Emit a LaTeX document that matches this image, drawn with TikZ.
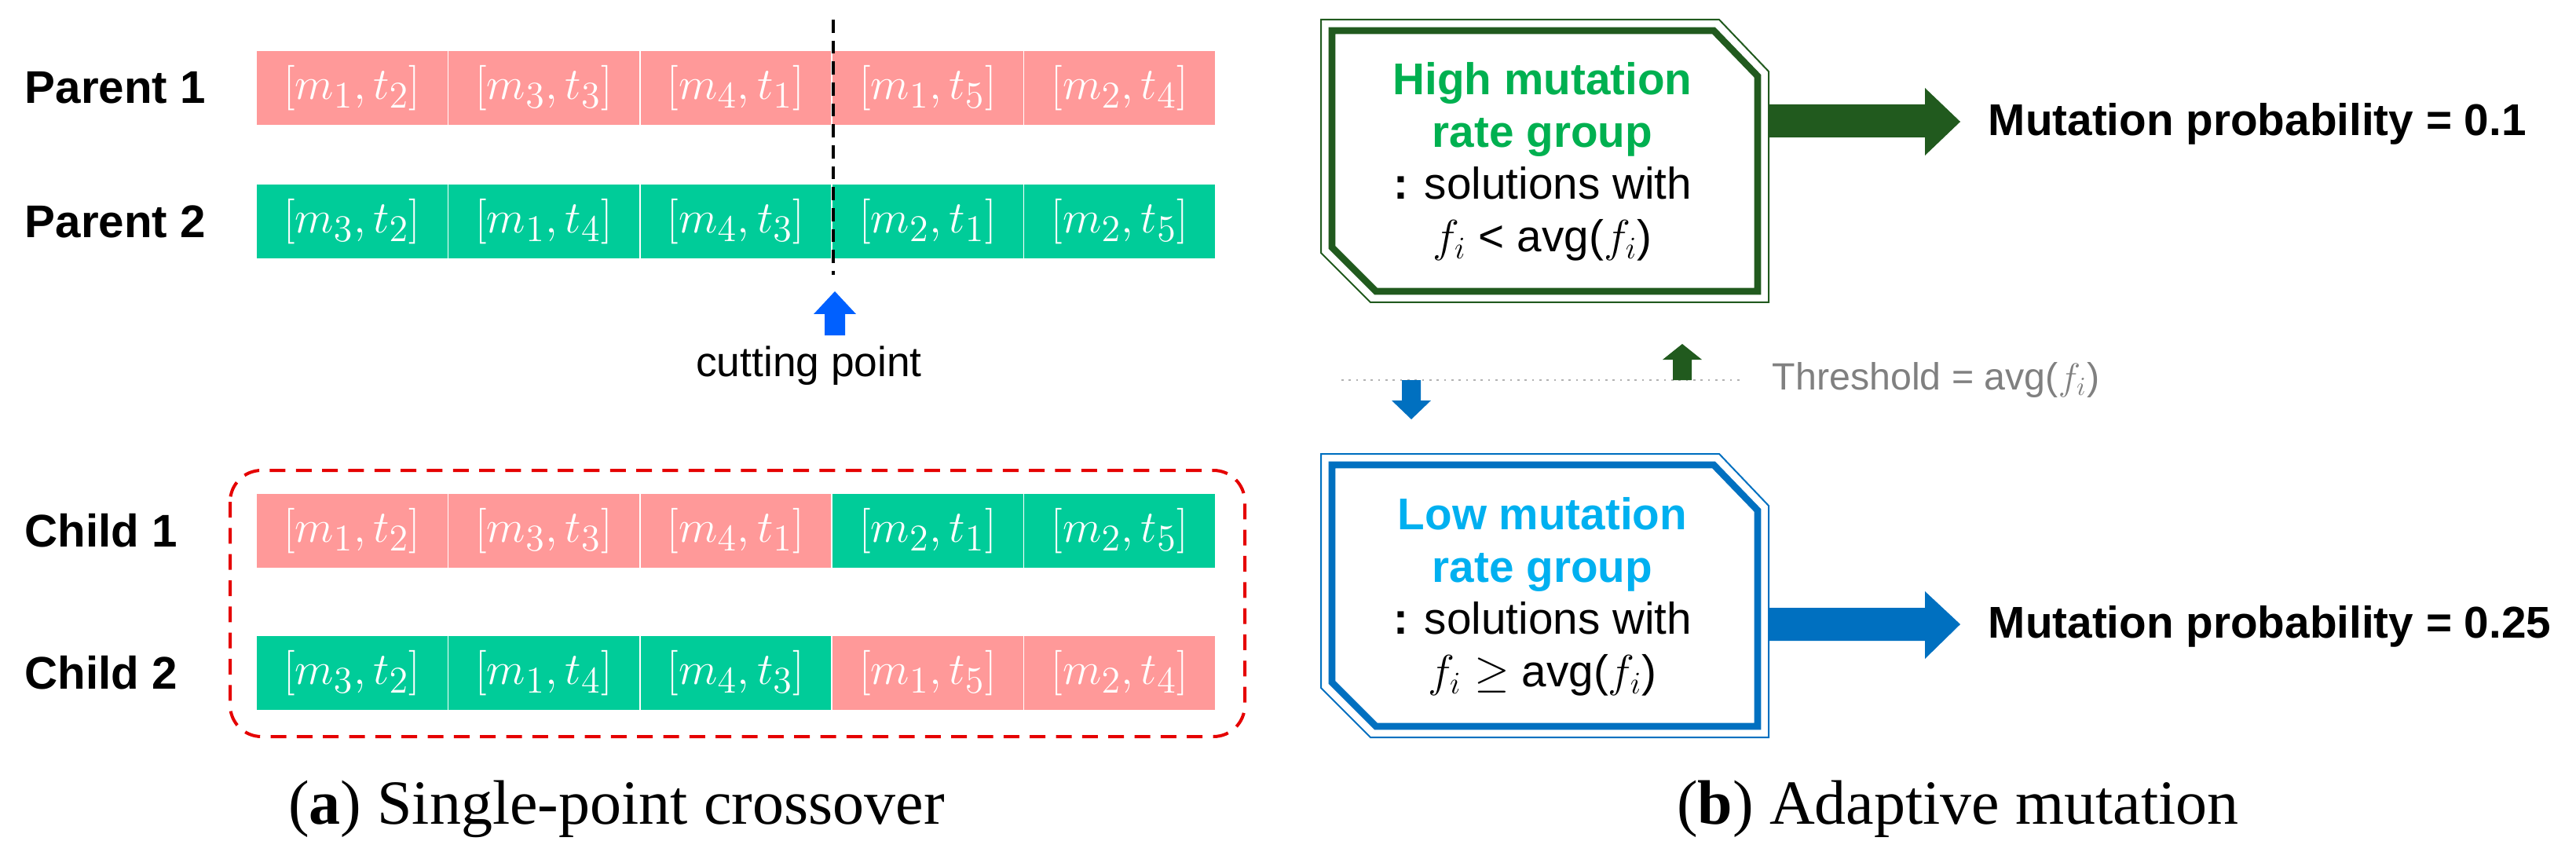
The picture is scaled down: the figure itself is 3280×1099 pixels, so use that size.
\documentclass[tikz,border=0pt]{standalone}
\usepackage{fontspec}
\setmainfont{Liberation Sans}
\newfontfamily\capfont{Liberation Serif}
\definecolor{pk}{HTML}{FF9999}
\definecolor{gr}{HTML}{00CC99}
\definecolor{dg}{HTML}{215A1E}
\definecolor{bl}{HTML}{0070C0}
\definecolor{lb}{HTML}{00B0F0}
\definecolor{gt}{HTML}{00B050}
\definecolor{cb}{HTML}{0060FF}
\begin{document}
\begin{tikzpicture}[x=0.3pt,y=-0.3pt,
  cell/.style={draw=white,line width=0.5pt,minimum width=73.3pt,minimum height=28.5pt,inner sep=0pt,text=white,font=\fontsize{19}{21}\selectfont},
  lab/.style={font=\bfseries\fontsize{17.5}{20}\selectfont,anchor=west},
  btxt/.style={align=center,font=\fontsize{17}{22}\selectfont},
  prob/.style={font=\bfseries\fontsize{17}{20}\selectfont,anchor=west},
  captxt/.style={font=\capfont\fontsize{24}{28}\selectfont}]
\useasboundingbox (0,0) rectangle (3280,1099);
% labels
\node[lab] (lp1) at (20,112) {Parent 1};
\node[lab] (lp2) at (20,282) {Parent 2};
\node[lab] (lc1) at (20,676) {Child 1};
\node[lab] (lc2) at (20,857) {Child 2};
% cells
\foreach \i/\c/\t in {1/pk/{[m_1,t_2]},2/pk/{[m_3,t_3]},3/pk/{[m_4,t_1]},4/pk/{[m_1,t_5]},5/pk/{[m_2,t_4]}}
  \node[cell,fill=\c] (pa\i) at ({326+122.2+244.4*(\i-1)},112) {$\t$};
\foreach \i/\c/\t in {1/gr/{[m_3,t_2]},2/gr/{[m_1,t_4]},3/gr/{[m_4,t_3]},4/gr/{[m_2,t_1]},5/gr/{[m_2,t_5]}}
  \node[cell,fill=\c] (pb\i) at ({326+122.2+244.4*(\i-1)},282) {$\t$};
\foreach \i/\c/\t in {1/pk/{[m_1,t_2]},2/pk/{[m_3,t_3]},3/pk/{[m_4,t_1]},4/gr/{[m_2,t_1]},5/gr/{[m_2,t_5]}}
  \node[cell,fill=\c] (ca\i) at ({326+122.2+244.4*(\i-1)},676) {$\t$};
\foreach \i/\c/\t in {1/gr/{[m_3,t_2]},2/gr/{[m_1,t_4]},3/gr/{[m_4,t_3]},4/pk/{[m_1,t_5]},5/pk/{[m_2,t_4]}}
  \node[cell,fill=\c] (cb\i) at ({326+122.2+244.4*(\i-1)},857) {$\t$};
% cutting line
\coordinate (ct) at (1061,25);
\coordinate (cbm) at (1061,350);
\draw[line width=1pt,dash pattern=on 5pt off 3pt] (ct) -- (cbm);
\fill[cb] (1036,400) -- (1063,371) -- (1090,400) -- (1076,400) -- (1076,427) -- (1050,427) -- (1050,400) -- cycle;
\node[font=\fontsize{16}{18}\selectfont] (cut) at (1030,466) {cutting point};
% red dashed box
\draw[red!90!black,line width=1.2pt,dash pattern=on 6pt off 4pt,rounded corners=12pt] (293,599) rectangle (1585,938);
\node[captxt] (capa) at (785,1030) {(\textbf{a}) Single-point crossover};
% high box
\draw[dg,line width=0.6pt] (1682,25) -- (2189,25) -- (2252,91) -- (2252,385) -- (1745,385) -- (1682,322) -- cycle;
\draw[dg,line width=2.6pt] (1696,39) -- (2182,39) -- (2238,97) -- (2238,371) -- (1752,371) -- (1696,315) -- cycle;
\node[btxt] (hb) at (1964,206) {\textcolor{gt}{\bfseries High mutation}\\[-2pt]\textcolor{gt}{\bfseries rate group}\\[-2pt]\textbf{:} solutions with\\[-2pt]$f_i$ < avg($f_i$)};
\fill[dg] (2252,133) -- (2451,133) -- (2451,112) -- (2496,155) -- (2451,198) -- (2451,175) -- (2252,175) -- cycle;
\node[prob] (p1) at (2520,158) {Mutation probability = 0.1};
% low box
\draw[bl,line width=0.6pt] (1682,578) -- (2189,578) -- (2252,644) -- (2252,939) -- (1745,939) -- (1682,876) -- cycle;
\draw[bl,line width=2.6pt] (1696,592) -- (2182,592) -- (2238,650) -- (2238,925) -- (1752,925) -- (1696,869) -- cycle;
\node[btxt] (lbx) at (1964,760) {\textcolor{lb}{\bfseries Low mutation}\\[-2pt]\textcolor{lb}{\bfseries rate group}\\[-2pt]\textbf{:} solutions with\\[-2pt]$f_i \geq$ avg($f_i$)};
\fill[bl] (2252,774) -- (2451,774) -- (2451,753) -- (2496,795) -- (2451,839) -- (2451,816) -- (2252,816) -- cycle;
\node[prob] (p2) at (2520,798) {Mutation probability = 0.25};
% threshold
\draw[gray!60,dotted,line width=0.8pt] (1708,484) -- (2221,484);
\fill[dg] (2117,458) -- (2142,438) -- (2167,458) -- (2154,458) -- (2154,484) -- (2130,484) -- (2130,458) -- cycle;
\fill[bl] (1772,510) -- (1797,534) -- (1822,510) -- (1809,510) -- (1809,484) -- (1785,484) -- (1785,510) -- cycle;
\node[anchor=west,text=gray,font=\fontsize{14.5}{16}\selectfont] (th) at (2245,484) {Threshold = avg($f_i$)};
\node[captxt] (capb) at (2493,1030) {(\textbf{b}) Adaptive mutation};
\end{tikzpicture}
\end{document}
